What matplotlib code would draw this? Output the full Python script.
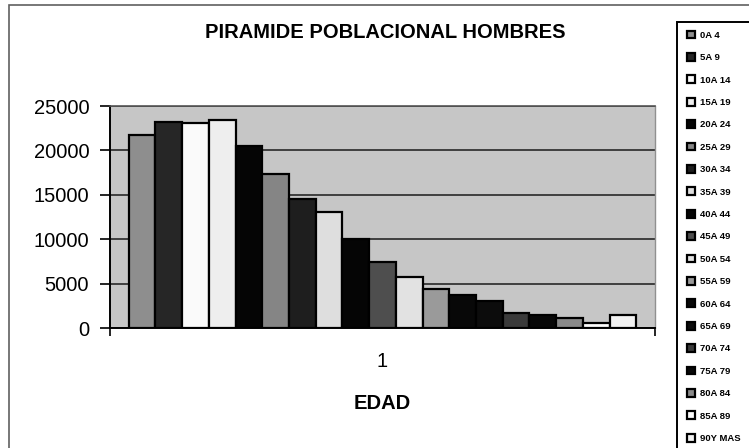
import matplotlib
matplotlib.use("Agg")
import matplotlib.pyplot as plt
from matplotlib.patches import Rectangle

# Datos: hombres por grupo de edad
grupos = ['0A 4', '5A 9', '10A 14', '15A 19', '20A 24', '25A 29', '30A 34',
          '35A 39', '40A 44', '45A 49', '50A 54', '55A 59', '60A 64', '65A 69',
          '70A 74', '75A 79', '80A 84', '85A 89', '90Y MAS']
hombres = [21700, 23150, 23050, 23400, 20500, 17350, 14550, 13050, 10000,
           7400, 5700, 4350, 3700, 3050, 1650, 1450, 1150, 600, 1450]
colores = ['#8e8e8e', '#262626', '#fafafa', '#eeeeee', '#050505', '#858585',
           '#1e1e1e', '#dedede', '#050505', '#4e4e4e', '#e2e2e2', '#9a9a9a',
           '#080808', '#0c0c0c', '#3a3a3a', '#080808', '#8a8a8a', '#fdfdfd',
           '#f2f2f2']
categoria = ['1']
yticks = [0, 5000, 10000, 15000, 20000, 25000]

W, H = 749, 448
plt.rcParams['font.family'] = ['Liberation Sans', 'DejaVu Sans']

fig = plt.figure(figsize=(W / 100, H / 100), dpi=100)
ax = fig.add_axes([110 / W, 1 - 328 / H, 545 / W, 222 / H])
ax.set_facecolor('#c6c6c6')

n = len(hombres)
barras = []
for i, (valor, color) in enumerate(zip(hombres, colores)):
    b = ax.bar(i - (n - 1) / 2, valor, width=1.0, color=color,
               edgecolor='black', linewidth=1.6, zorder=3, label=grupos[i])
    barras.append(b)

ax.set_xlim(-10.2, 10.2)
ax.set_ylim(0, 25000)
ax.set_yticks(yticks)
ax.set_yticklabels([str(v) for v in yticks], fontsize=14.5)
ax.yaxis.grid(True, color='#1a1a1a', linewidth=1.1, zorder=1)
ax.set_axisbelow(True)

ax.set_xticks([0])
ax.set_xticklabels(categoria, fontsize=14.5)
ax.tick_params(axis='x', length=0, pad=17)
ax.set_xticks([-10.2, 10.2], minor=True)
ax.tick_params(axis='x', which='minor', length=6, width=1.2, direction='out')
ax.tick_params(axis='y', length=7, width=1.2, direction='out', pad=8)

ax.spines['left'].set_linewidth(1.4)
ax.spines['bottom'].set_linewidth(1.4)
ax.spines['top'].set_color('#555555')
ax.spines['top'].set_linewidth(1.2)
ax.spines['right'].set_color('#909090')
ax.spines['right'].set_linewidth(1.0)

fig.text(385 / W, 1 - 33 / H, 'PIRAMIDE POBLACIONAL HOMBRES', ha='center',
         va='center', fontsize=14.5, fontweight='bold')
fig.text(382 / W, 1 - 403 / H, 'EDAD', ha='center', va='center',
         fontsize=14.5, fontweight='bold')

# Borde del grafico y caja de leyenda
fig.patches.append(Rectangle((9 / W, -0.1), 1.2, 1.1 - 5 / H,
                             transform=fig.transFigure, fill=False,
                             edgecolor='#606060', linewidth=1.2))
fig.patches.append(Rectangle((677 / W, -0.1), 0.3, 1.1 - 22 / H,
                             transform=fig.transFigure, fill=False,
                             edgecolor='black', linewidth=1.4))

fig.legend(handles=barras, labels=grupos, loc='upper left',
           bbox_to_anchor=(680 / W, 1 - 24 / H), frameon=False,
           prop={'size': 6.8, 'weight': 'bold'}, handlelength=0.9,
           handleheight=0.9, handletextpad=0.5, labelspacing=1.4,
           borderpad=0.2)

fig.savefig('out.png', dpi=100)
